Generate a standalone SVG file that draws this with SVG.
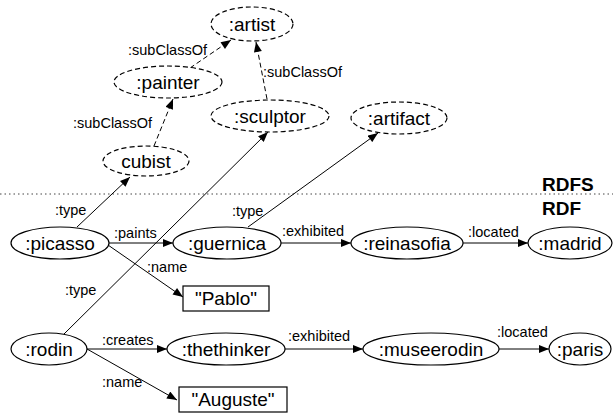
<svg xmlns="http://www.w3.org/2000/svg" width="613" height="414" viewBox="0 0 613 414">
<defs>
<marker id="ah" viewBox="0 0 10 8" refX="10" refY="4" markerWidth="11" markerHeight="8" markerUnits="userSpaceOnUse" orient="auto">
<path d="M0,0 L10,4 L0,8 z" fill="#000"/>
</marker>
<style>
.n ellipse{fill:#fff;stroke:#000;stroke-width:1.2}
.c ellipse{fill:#fff;stroke:#000;stroke-width:1.2;stroke-dasharray:5,3}
.lit rect{fill:#fff;stroke:#000;stroke-width:1.2}
.nt{font-family:"Liberation Sans",Arial,sans-serif;font-size:19px;text-anchor:middle;fill:#000}
.el{font-family:"Liberation Sans",Arial,sans-serif;font-size:14.5px;fill:#000}
.e line{stroke:#000;stroke-width:1;marker-end:url(#ah)}
.e line.d{stroke-dasharray:5,3}
.lay{font-family:"Liberation Sans",Arial,sans-serif;font-size:19px;font-weight:bold;fill:#000}
</style>
</defs>
<rect width="613" height="414" fill="#fff"/>
<line x1="0" y1="194" x2="613" y2="194" stroke="#444" stroke-width="1" stroke-dasharray="1.5,3"/>
<text class="lay" x="542" y="191">RDFS</text>
<text class="lay" x="542" y="215">RDF</text>

<g id="connectors" class="e">
<line class="d" x1="190" y1="68" x2="231" y2="40"/>
<line class="d" x1="154" y1="146" x2="173" y2="99"/>
<line class="d" x1="267" y1="99" x2="256" y2="42"/>
<line x1="77" y1="227" x2="130" y2="177"/>
<line x1="64" y1="334" x2="268" y2="132"/>
<line x1="248" y1="227" x2="378" y2="133"/>
<line x1="109" y1="243" x2="173" y2="243"/>
<line x1="108" y1="245" x2="183" y2="297"/>
<line x1="281" y1="243" x2="351" y2="243"/>
<line x1="463" y1="243" x2="528" y2="243"/>
<line x1="86" y1="349" x2="167" y2="349"/>
<line x1="87" y1="349" x2="177" y2="400"/>
<line x1="285" y1="349" x2="363" y2="349"/>
<line x1="499" y1="349" x2="549" y2="349"/>
</g>
<g id="edge-labels">
<text class="el" x="128" y="55">:subClassOf</text>
<text class="el" x="73" y="128">:subClassOf</text>
<text class="el" x="263" y="77">:subClassOf</text>
<text class="el" x="55" y="215">:type</text>
<text class="el" x="232" y="216">:type</text>
<text class="el" x="65" y="295">:type</text>
<text class="el" x="114" y="238">:paints</text>
<text class="el" x="147" y="272">:name</text>
<text class="el" x="282" y="236">:exhibited</text>
<text class="el" x="468" y="237">:located</text>
<text class="el" x="102" y="345">:creates</text>
<text class="el" x="102" y="387">:name</text>
<text class="el" x="288" y="341">:exhibited</text>
<text class="el" x="497" y="337">:located</text>
</g>

<g id="artist" class="c"><ellipse cx="252" cy="24" rx="41" ry="17"/><text class="nt" x="252" y="31">:artist</text></g>
<g id="painter" class="c"><ellipse cx="168" cy="82" rx="54" ry="16"/><text class="nt" x="168" y="89">:painter</text></g>
<g id="sculptor" class="c"><ellipse cx="270" cy="116" rx="59" ry="16"/><text class="nt" x="270" y="123">:sculptor</text></g>
<g id="cubist" class="c"><ellipse cx="146" cy="161" rx="43" ry="15"/><text class="nt" x="146" y="168">cubist</text></g>
<g id="artifact" class="c"><ellipse cx="399" cy="118" rx="48" ry="16"/><text class="nt" x="399" y="125">:artifact</text></g>

<g id="picasso" class="n"><ellipse cx="60" cy="243" rx="49" ry="16"/><text class="nt" x="60" y="250">:picasso</text></g>
<g id="guernica" class="n"><ellipse cx="227" cy="243" rx="54" ry="16"/><text class="nt" x="227" y="250">:guernica</text></g>
<g id="reinasofia" class="n"><ellipse cx="407" cy="243" rx="56" ry="16"/><text class="nt" x="407" y="250">:reinasofia</text></g>
<g id="madrid" class="n"><ellipse cx="570" cy="243" rx="42" ry="16"/><text class="nt" x="570" y="250">:madrid</text></g>
<g id="pablo" class="lit"><rect x="183" y="286" width="86" height="25"/><text class="nt" x="226" y="305">"Pablo"</text></g>
<g id="rodin" class="n"><ellipse cx="49" cy="349" rx="38" ry="16"/><text class="nt" x="49" y="356">:rodin</text></g>
<g id="thethinker" class="n"><ellipse cx="226" cy="349" rx="59" ry="16"/><text class="nt" x="226" y="356">:thethinker</text></g>
<g id="museerodin" class="n"><ellipse cx="431" cy="349" rx="68" ry="16"/><text class="nt" x="431" y="356">:museerodin</text></g>
<g id="paris" class="n"><ellipse cx="580" cy="349" rx="31" ry="16"/><text class="nt" x="580" y="356">:paris</text></g>
<g id="auguste" class="lit"><rect x="179" y="387" width="108" height="25"/><text class="nt" x="233" y="406">"Auguste"</text></g>
</svg>
